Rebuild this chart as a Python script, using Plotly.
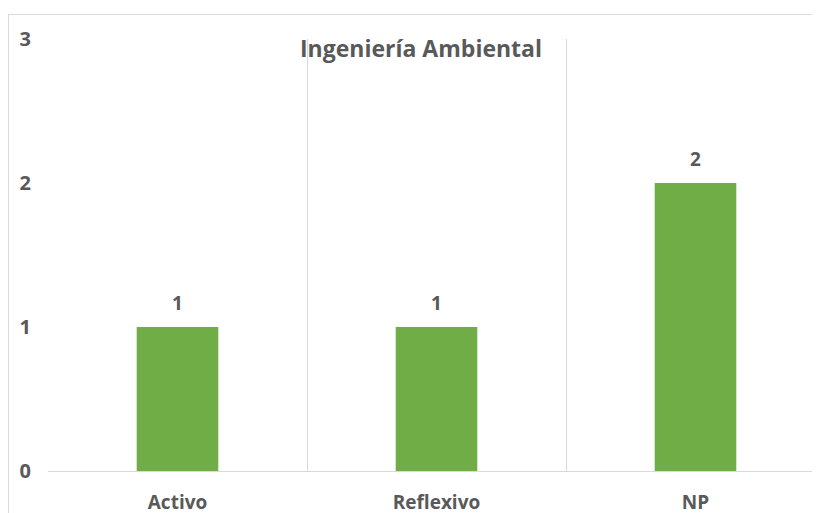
import plotly.graph_objects as go

categories = ["Activo", "Reflexivo", "NP"]
values = [1, 1, 2]
y_ticks = [0, 1, 2, 3]
title_text = "Ingeniería Ambiental"

# page is offset by the 8px body margin; work in figure pixels
OFF = 8
W, H = 820, 513
plot_l, plot_t, plot_b = 48 - OFF, 39 - OFF, 471 - OFF
ml, mr, mt, mb = plot_l, 0, plot_t, H - plot_b
pw = W - ml - mr
ph = H - mt - mb
cat_w = 259.0
x_hi = -0.5 + pw / cat_w

FONT = "Open Sans"
TXT = "#595959"
GRID = "#d9d9d9"

fig = go.Figure(go.Bar(
    x=categories, y=values,
    marker=dict(color="#70AD47", line=dict(width=0)),
    width=0.315,
    cliponaxis=False,
))

label_anns = [dict(
    x=c, y=v, xref="x", yref="y", text="<b>%s</b>" % v,
    showarrow=False, yanchor="middle", yshift=24,
    font=dict(family=FONT, size=19, color=TXT),
) for c, v in zip(categories, values)]

fig.update_layout(
    width=W, height=H,
    margin=dict(l=ml, r=mr, t=mt, b=mb),
    paper_bgcolor="white", plot_bgcolor="white",
    showlegend=False,
    font=dict(family=FONT, color=TXT),
    annotations=[dict(
        text="<b>%s</b>" % title_text, xref="paper", yref="paper",
        x=(421 - OFF - ml) / pw, y=(plot_b - (48 - OFF)) / ph,
        xanchor="center", yanchor="middle",
        showarrow=False, font=dict(family=FONT, size=23, color=TXT),
    )] + label_anns,
    shapes=[dict(
        type="rect", xref="paper", yref="paper",
        x0=(0.5 - ml) / pw, x1=(W + 20 - ml) / pw,
        y0=(plot_b - (H + 20)) / ph, y1=(plot_b - 6.5) / ph,
        line=dict(color=GRID, width=1), fillcolor="rgba(0,0,0,0)", layer="below",
    )],
)

fig.update_xaxes(
    type="category", range=[-0.5, x_hi],
    tickson="boundaries", showgrid=True, gridcolor=GRID, gridwidth=1,
    showline=True, linecolor=GRID, linewidth=1,
    ticks="", tickfont=dict(family=FONT, size=19, color=TXT, weight="bold"),
    ticklabelstandoff=14,
)
fig.update_yaxes(
    range=[0, 3], tickvals=y_ticks, showgrid=False, zeroline=False,
    showline=False, ticks="",
    tickfont=dict(family=FONT, size=20, color=TXT, weight="bold"),
    ticklabelstandoff=16,
)

fig.write_html("out.html")
